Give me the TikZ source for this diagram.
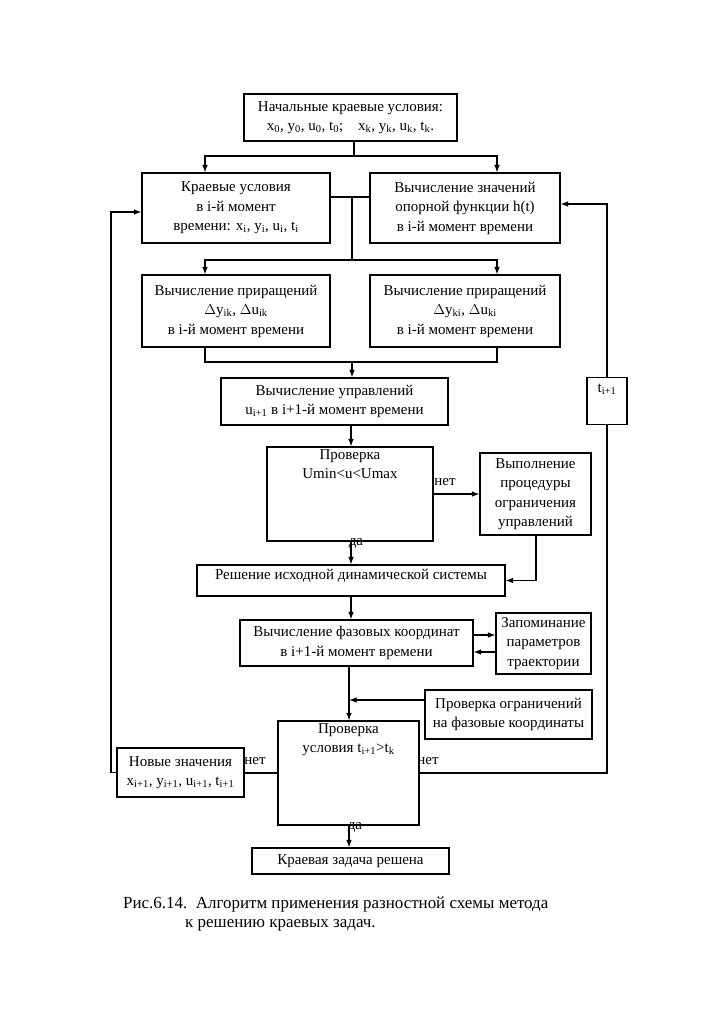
\documentclass[tikz,border=0pt]{standalone}
\usepackage{fontspec}
\setmainfont{Liberation Serif}
\usetikzlibrary{arrows.meta}
\begin{document}
\begin{tikzpicture}[x=1pt,y=-1pt,
  every node/.style={font=\fontsize{15}{19.5}\selectfont},
  box/.style={draw, line width=1.1pt, inner sep=0pt, align=center},
  txt/.style={inner sep=0pt, align=center},
  lbl/.style={inner sep=0pt},
  capt/.style={inner sep=0pt, scale=1.13, transform shape},
  line/.style={line width=1.1pt},
  arr/.style={line width=1.1pt, -{Latex[length=7.5pt,width=5.5pt]}}]
\useasboundingbox (0,0) rectangle (709,1024);
\fill[white] (0,0) rectangle (709,1024);

% boxes
\node[box, minimum width=213pt, minimum height=47pt] (top) at (350.5,117.5)
  {Начальные краевые условия:\\x\textsubscript{0}, y\textsubscript{0}, u\textsubscript{0}, t\textsubscript{0};\quad x\textsubscript{k}, y\textsubscript{k}, u\textsubscript{k}, t\textsubscript{k}.};
\node[box, minimum width=188pt, minimum height=70pt] (kr) at (236,208)
  {Краевые условия\\в i-й момент\\времени: x\textsubscript{i}, y\textsubscript{i}, u\textsubscript{i}, t\textsubscript{i}};
\node[box, minimum width=190pt, minimum height=70pt] (h) at (465,208)
  {Вычисление значений\\опорной функции h(t)\\в i-й момент времени};
\node[box, minimum width=188pt, minimum height=72pt] (pr1) at (236,311)
  {Вычисление приращений\\$\Delta$y\textsubscript{ik}, $\Delta$u\textsubscript{ik}\\в i-й момент времени};
\node[box, minimum width=190pt, minimum height=72pt] (pr2) at (465,311)
  {Вычисление приращений\\$\Delta$y\textsubscript{ki}, $\Delta$u\textsubscript{ki}\\в i-й момент времени};
\node[box, minimum width=227pt, minimum height=47pt] (upr) at (334.5,401.5)
  {Вычисление управлений\\u\textsubscript{i+1} в i+1-й момент времени};
\node[box, minimum width=40pt, minimum height=47pt] (tb) at (607,401) {};
\node[txt, anchor=north] (tbt) at (607,384) {t\textsubscript{i+1}};
\node[box, minimum width=166pt, minimum height=94pt] (chk1) at (350,494) {};
\node[txt, anchor=north] (chk1t) at (350,449) {Проверка\\Umin<u<Umax};
\node[box, minimum width=111pt, minimum height=82pt] (lim) at (535.5,494)
  {Выполнение\\процедуры\\ограничения\\управлений};
\node[box, minimum width=308pt, minimum height=31pt] (sol) at (351,580.5) {};
\node[txt] (solt) at (351,576) {Решение исходной динамической системы};
\node[box, minimum width=233pt, minimum height=46pt] (faz) at (356.5,643)
  {Вычисление фазовых координат\\в i+1-й момент времени};
\node[box, minimum width=95pt, minimum height=61pt] (mem) at (543.5,643.5)
  {Запоминание\\параметров\\траектории};
\node[box, minimum width=167pt, minimum height=49pt] (pogr) at (508.5,714.5)
  {Проверка ограничений\\на фазовые координаты};
\node[box, minimum width=141pt, minimum height=104pt] (chk2) at (348.5,773) {};
\node[txt, anchor=north] (chk2t) at (348.5,723) {Проверка\\условия t\textsubscript{i+1}>t\textsubscript{k}};
\node[box, minimum width=127pt, minimum height=49pt] (nov) at (180.5,772.5)
  {Новые значения\\x\textsubscript{i+1}, y\textsubscript{i+1}, u\textsubscript{i+1}, t\textsubscript{i+1}};
\node[box, minimum width=197pt, minimum height=26pt] (fin) at (350.5,861)
  {Краевая задача решена};

% helper coordinates
\coordinate (xT) at (354,0);
\coordinate (xL) at (205,0);
\coordinate (xR) at (497,0);
\coordinate (xM) at (352,0);
\coordinate (xN) at (351,0);
\coordinate (xP) at (349,0);
\coordinate (xLim) at (536,0);
\coordinate (xLL) at (111,0);
\coordinate (xRR) at (607,0);
\coordinate (j1) at (354,156);
\coordinate (ykh) at (0,197);
\coordinate (j2) at (352,260);
\coordinate (j3) at (352,362);
\coordinate (yL) at (0,212);
\coordinate (yR) at (0,204);
\coordinate (yc1) at (0,494);
\coordinate (ym1) at (0,635);
\coordinate (ym2) at (0,652);
\coordinate (yp) at (0,700);
\coordinate (yc2) at (0,773);

% connectors
\draw[line] (top.south -| xT) -- (j1);
\draw[arr] (j1) -| (kr.north -| xL);
\draw[arr] (j1) -| (h.north -| xR);
\draw[line] (kr.east |- ykh) -- (h.west |- ykh);
\draw[line] (xM |- ykh) -- (j2);
\draw[arr] (j2) -| (pr1.north -| xL);
\draw[arr] (j2) -| (pr2.north -| xR);
\draw[line] (pr1.south -| xL) |- (j3) -| (pr2.south -| xR);
\draw[arr] (j3) -- (upr.north -| xM);
\draw[arr] (upr.south -| xN) -- (chk1.north -| xN);
\draw[arr] (chk1.east |- yc1) -- (lim.west |- yc1);
\draw[arr] (lim.south -| xLim) |- (sol.east);
\draw[arr] (chk1.south -| xN) -- (sol.north -| xN);
\draw[arr] (sol.south -| xN) -- (faz.north -| xN);
\draw[arr] (faz.east |- ym1) -- (mem.west |- ym1);
\draw[arr] (mem.west |- ym2) -- (faz.east |- ym2);
\draw[arr] (faz.south -| xP) -- (chk2.north -| xP);
\draw[arr] (pogr.west |- yp) -- (xP |- yp);
\draw[line] (chk2.west |- yc2) -- (nov.east |- yc2);
\draw[arr] (nov.west) -- (nov.west -| xLL) -- (xLL |- yL) -- (kr.west |- yL);
\draw[line] (chk2.east |- yc2) -- (xRR |- yc2) -- (tb.south);
\draw[arr] (tb.north) -- (xRR |- yR) -- (h.east |- yR);
\draw[arr] (chk2.south -| xP) -- (fin.north -| xP);

% labels
\node[lbl] (n1) at (445,482) {нет};
\node[lbl] (d1) at (356,543) {да};
\node[lbl] (n2) at (255,761) {нет};
\node[lbl] (n3) at (428,761) {нет};
\node[lbl] (d2) at (355,827) {да};

% caption
\node[capt, anchor=base west] (cap1) at (123,908) {Рис.6.14.\ \ Алгоритм применения разностной схемы метода};
\node[capt, anchor=base west] (cap2) at (185,927) {к решению краевых задач.};
\end{tikzpicture}
\end{document}
